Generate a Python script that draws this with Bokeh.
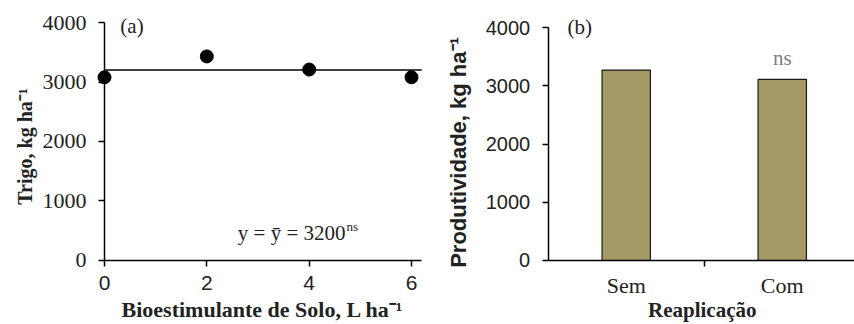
from bokeh.plotting import figure
from bokeh.layouts import row
from bokeh.models import Range1d, FixedTicker, ColumnDataSource
from bokeh.core.properties import value
from bokeh.embed import file_html
from bokeh.resources import INLINE
import numpy as np

# ---- data ----
dose = [0, 2, 4, 6]
trigo = [3080, 3430, 3210, 3080]
mean_line = 3200
eq_text = "y = ȳ = 3200"
eq_sup = "ns"
xlabel_a = "Bioestimulante de Solo, L ha⁻¹"
ylabel_a = "Trigo, kg ha⁻¹"

categories = ["Sem", "Com"]
produtividade = [3270, 3110]
xlabel_b = "Reaplicação"
ylabel_b = "Produtividade, kg ha⁻¹"
y_ticks = [0, 1000, 2000, 3000, 4000]

SERIF = "Liberation Serif"
SANS = "Liberation Sans"
INK = "#222222"
HALF_PI = np.pi / 2

def style_axes(p, xbounds):
    for ax in (p.xaxis[0], p.yaxis[0]):
        ax.axis_line_color = "black"
        ax.axis_line_width = 1.5
        ax.major_tick_line_color = "black"
        ax.major_tick_line_width = 1.5
        ax.major_tick_in = 0
        ax.major_tick_out = 6
        ax.minor_tick_line_color = None
        ax.minor_tick_in = 0
        ax.minor_tick_out = 0
        ax.major_label_text_color = INK
    p.yaxis.bounds = (y_ticks[0], y_ticks[-1])
    p.yaxis.fixed_location = 0
    p.xaxis.bounds = xbounds
    p.xaxis.fixed_location = y_ticks[0]
    p.xgrid.visible = False
    p.ygrid.visible = False
    p.outline_line_color = None
    p.background_fill_color = "white"
    p.border_fill_color = "white"

# ---- panel (a) ----
p1 = figure(width=430, height=324, output_backend="svg", toolbar_location=None,
            x_range=Range1d(-2.0326, 6.371), y_range=Range1d(-1076, 4370),
            min_border=0)
style_axes(p1, (0, 6.2))
p1.xaxis.ticker = FixedTicker(ticks=dose)
p1.yaxis.ticker = FixedTicker(ticks=y_ticks)
p1.xaxis.major_label_text_font = SANS
p1.xaxis.major_label_text_font_size = "21px"
p1.xaxis.major_label_standoff = 10
p1.yaxis.major_label_text_font = SERIF
p1.yaxis.major_label_text_font_size = "22px"
p1.yaxis.major_label_standoff = 12

p1.line(x=[0, 6.2], y=[mean_line, mean_line], line_color="black", line_width=1.5)
p1.scatter(x=dose, y=trigo, size=13, color="black")
p1.text(x=[0.31], y=[3940], text=["(a)"], text_font=value(SERIF), text_font_size="21px",
        text_baseline="middle", text_align="left", text_color=INK)
p1.text(x=[4.71], y=[470], text=[eq_text], text_font=value(SERIF), text_font_size="21px",
        text_baseline="middle", text_align="right", text_color=INK)
p1.text(x=[4.73], y=[575], text=[eq_sup], text_font=value(SERIF), text_font_size="13px",
        text_baseline="middle", text_align="left", text_color=INK)
# axis titles
p1.text(x=[3.088], y=[-830], text=[xlabel_a], text_font=value(SERIF), text_font_size="22px",
        text_font_style="bold", text_baseline="middle", text_align="center", text_color=INK)
p1.text(x=[-1.55], y=[1916], text=[ylabel_a], angle=HALF_PI, text_font=value(SERIF),
        text_font_size="20px", text_font_style="bold", text_baseline="middle",
        text_align="center", text_color=INK)

# ---- panel (b) ----
xpos = np.arange(len(categories)) + 0.5
src = ColumnDataSource(dict(x=xpos, top=produtividade, cat=categories))
p2 = figure(width=424, height=324, output_backend="svg", toolbar_location=None,
            x_range=Range1d(-0.7545, 1.963), y_range=Range1d(-1099, 4464),
            min_border=0)
style_axes(p2, (0, 1.963))
p2.xaxis.ticker = FixedTicker(ticks=list(xpos), minor_ticks=[1.0])
p2.xaxis.major_label_overrides = {float(x): c for x, c in zip(xpos, categories)}
p2.xaxis.major_tick_line_color = None
p2.xaxis.minor_tick_line_color = "black"
p2.xaxis.minor_tick_line_width = 1.5
p2.xaxis.minor_tick_in = 0
p2.xaxis.minor_tick_out = 6
p2.xaxis.major_label_text_font = SERIF
p2.xaxis.major_label_text_font_size = "22px"
p2.xaxis.major_label_standoff = 7
p2.yaxis.ticker = FixedTicker(ticks=y_ticks)
p2.yaxis.major_label_text_font = SANS
p2.yaxis.major_label_text_font_size = "20px"
p2.yaxis.major_label_standoff = 12

p2.vbar(x="x", top="top", bottom=0, width=0.31, source=src,
        fill_color="#A39A66", line_color="#1a1a1a", line_width=1.2)
p2.text(x=[xpos[1]], y=[3485], text=["ns"], text_font=value(SERIF), text_font_size="21px",
        text_baseline="middle", text_align="center", text_color="#7f7f7f")
p2.text(x=[0.124], y=[4017], text=["(b)"], text_font=value(SERIF), text_font_size="21px",
        text_baseline="middle", text_align="left", text_color=INK)
# axis titles
p2.text(x=[0.987], y=[-858], text=[xlabel_b], text_font=value(SERIF), text_font_size="21px",
        text_font_style="bold", text_baseline="middle", text_align="center", text_color=INK)
p2.text(x=[-0.575], y=[1854], text=[ylabel_b], angle=HALF_PI, text_font=value(SANS),
        text_font_size="22px", text_font_style="bold", text_baseline="middle",
        text_align="center", text_color=INK)

layout = row(p1, p2)
open("out.html", "w").write(file_html(layout, INLINE))
